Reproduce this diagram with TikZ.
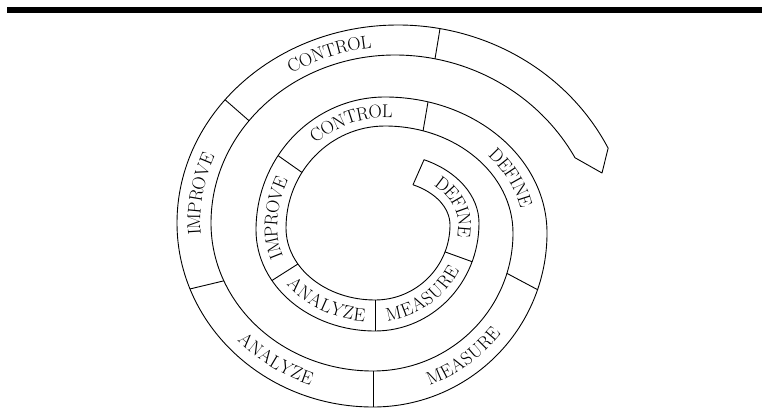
\documentclass[tikz,border=0pt]{standalone}
\usetikzlibrary{calc,decorations.text}

\newcommand\bandfont{\fontsize{18.5}{18.5}\selectfont}

\tikzset{
  bandline/.style={line width=0.9pt, line join=round},
  bandtext/.style={decorate, decoration={text along path, text align=center, raise=-6.3pt, text={|\bandfont|#1}}}
}

\begin{document}
\begin{tikzpicture}[x=1pt, y=1pt]
	\useasboundingbox (0,0) rectangle (762,408);

	% rule across the top
	\fill (7,394.7) rectangle (762,400.7);

	% centres of the quarter ellipses: inner edge (i), outer edge (o), middle of the band (m)
	\coordinate (i1) at (383,183);
	\coordinate (i2) at (375,183);
	\coordinate (i3) at (375,180);
	\coordinate (i4) at (385,180);
	\coordinate (i5) at (385,175);
	\coordinate (i6) at (373,175);
	\coordinate (i7) at (373,185);
	\coordinate (i8) at (395,185);
	\coordinate (i9) at (395,153);
	\coordinate (o1) at (383,185);
	\coordinate (o2) at (375,185);
	\coordinate (o3) at (375,178);
	\coordinate (o4) at (385,178);
	\coordinate (o5) at (385,175);
	\coordinate (o6) at (373,175);
	\coordinate (o7) at (373,185);
	\coordinate (o8) at (398,185);
	\coordinate (o9) at (398,160);
	\coordinate (m1) at (383,184);
	\coordinate (m2) at (375,184);
	\coordinate (m3) at (375,179);
	\coordinate (m4) at (385,179);
	\coordinate (m5) at (385,175);
	\coordinate (m6) at (373,175);
	\coordinate (m7) at (373,185);
	\coordinate (m8) at (396.5,185);
	\coordinate (m9) at (396.5,156.5);

	% the two ends of the band
	\coordinate (startin) at ($(i1)+(63.4:67 and 45)$);
	\coordinate (startout) at ($(o1)+(64.7:96 and 70)$);
	\coordinate (endin) at ($(i9)+(29.1:206 and 200)$);
	\coordinate (tip) at (602,235);

	% inner edge
	\draw [bandline] (startin)
		arc [start angle=63.4, end angle=0, x radius=67, y radius=45]
		arc [start angle=0, end angle=-90, x radius=75, y radius=75]
		arc [start angle=-90, end angle=-180, x radius=89, y radius=72]
		arc [start angle=180, end angle=90, x radius=99, y radius=102]
		arc [start angle=90, end angle=0, x radius=128, y radius=107]
		arc [start angle=0, end angle=-90, x radius=140, y radius=138]
		arc [start angle=-90, end angle=-180, x radius=162, y radius=148]
		arc [start angle=180, end angle=90, x radius=184, y radius=168]
		arc [start angle=90, end angle=29.1, x radius=206, y radius=200];

	% outer edge, with both end caps
	\draw [bandline] (startin) -- (startout)
		arc [start angle=64.7, end angle=0, x radius=96, y radius=70]
		arc [start angle=0, end angle=-90, x radius=104, y radius=108]
		arc [start angle=-90, end angle=-180, x radius=119, y radius=101]
		arc [start angle=180, end angle=90, x radius=129, y radius=133]
		arc [start angle=90, end angle=0, x radius=162, y radius=136]
		arc [start angle=0, end angle=-90, x radius=174, y radius=174]
		arc [start angle=-90, end angle=-180, x radius=196, y radius=184]
		arc [start angle=180, end angle=90, x radius=221, y radius=198]
		arc [start angle=90, end angle=26.6, x radius=235, y radius=223]
		-- (tip) -- (endin);

	% dividers between the phases
	\draw [bandline] ($(i2)+(-21:75 and 75)$) -- ($(o2)+(-21:104 and 108)$);
	\draw [bandline] ($(i2)+(-90:75 and 75)$) -- ($(o2)+(-90:104 and 108)$);
	\draw [bandline] ($(i3)+(-150:89 and 72)$) -- ($(o3)+(-150:119 and 101)$);
	\draw [bandline] ($(i4)+(147:99 and 102)$) -- ($(o4)+(146:129 and 133)$);
	\draw [bandline] ($(i5)+(72.7:128 and 107)$) -- ($(o5)+(74.6:162 and 136)$);
	\draw [bandline] ($(i6)+(-17:140 and 138)$) -- ($(o6)+(-19:174 and 174)$);
	\draw [bandline] ($(i6)+(-90:140 and 138)$) -- ($(o6)+(-90:174 and 174)$);
	\draw [bandline] ($(i7)+(-157:162 and 148)$) -- ($(o7)+(-159:196 and 184)$);
	\draw [bandline] ($(i8)+(142.5:184 and 168)$) -- ($(o8)+(141.5:221 and 198)$);
	\draw [bandline] ($(i9)+(78.8:206 and 200)$) -- ($(o9)+(79.7:235 and 223)$);

	% labels, inner turn
	\path [bandtext=DEFINE] ($(m1)+(64:81.5 and 57.5)$)
		arc [start angle=64, end angle=0, x radius=81.5, y radius=57.5]
		arc [start angle=0, end angle=-21, x radius=89.5, y radius=91.5];
	\path [bandtext=MEASURE] ($(m2)+(-90:89.5 and 91.5)$)
		arc [start angle=-90, end angle=-21, x radius=89.5, y radius=91.5];
	\path [bandtext=ANALYZE] ($(m3)+(-150:104 and 86.5)$)
		arc [start angle=-150, end angle=-90, x radius=104, y radius=86.5];
	\path [bandtext=IMPROVE] ($(m3)+(-150:104 and 86.5)$)
		arc [start angle=-150, end angle=-180, x radius=104, y radius=86.5]
		arc [start angle=180, end angle=146.5, x radius=114, y radius=117.5];
	\path [bandtext=CONTROL] ($(m4)+(146.5:114 and 117.5)$)
		arc [start angle=146.5, end angle=90, x radius=114, y radius=117.5]
		arc [start angle=90, end angle=73.7, x radius=145, y radius=121.5];

	% labels, outer turn
	\path [bandtext=DEFINE] ($(m5)+(73.7:145 and 121.5)$)
		arc [start angle=73.7, end angle=0, x radius=145, y radius=121.5]
		arc [start angle=0, end angle=-18, x radius=157, y radius=156];
	\path [bandtext=MEASURE] ($(m6)+(-90:157 and 156)$)
		arc [start angle=-90, end angle=-18, x radius=157, y radius=156];
	\path [bandtext=ANALYZE] ($(m7)+(-158:179 and 166)$)
		arc [start angle=-158, end angle=-90, x radius=179, y radius=166];
	\path [bandtext=IMPROVE] ($(m7)+(-158:179 and 166)$)
		arc [start angle=-158, end angle=-180, x radius=179, y radius=166]
		arc [start angle=180, end angle=142, x radius=202.5, y radius=183];
	\path [bandtext=CONTROL] ($(m8)+(142:202.5 and 183)$)
		arc [start angle=142, end angle=90, x radius=202.5, y radius=183]
		arc [start angle=90, end angle=79.2, x radius=220.5, y radius=211.5];
\end{tikzpicture}
\end{document}
